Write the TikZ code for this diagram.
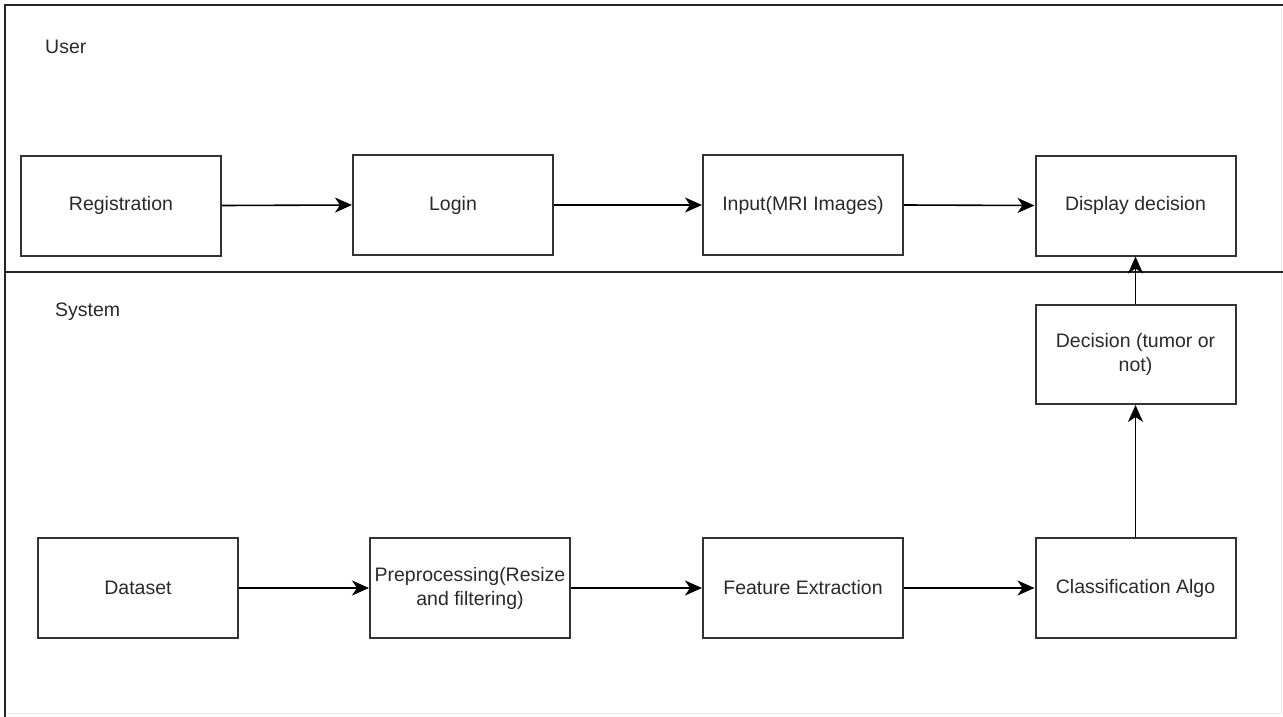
\documentclass[tikz,border=0pt]{standalone}
\usepackage{fontspec}
\setmainfont{Liberation Sans}
\usetikzlibrary{arrows.meta}
\definecolor{boxline}{HTML}{333333}
\definecolor{txt}{HTML}{2A2A2A}
\begin{document}
\begin{tikzpicture}[x=1pt,y=-1pt,
  stepbox/.style={draw=boxline, line width=2pt, fill=white, minimum width=200pt, minimum height=100pt,
    inner sep=0pt, align=center, text=txt, font=\fontsize{19.5}{24}\selectfont},
  lanelabel/.style={anchor=west, inner sep=0pt, text=txt, font=\fontsize{19.5}{24}\selectfont},
  frameline/.style={draw=black!85, line width=2pt},
  faintline/.style={draw=black!8, line width=1pt},
  flow/.style={draw=black, line width=1.6pt, -{Stealth[length=17pt,width=15pt,inset=5pt]}}]
\useasboundingbox (0,0) rectangle (1283,717);
\fill[white] (0,0) rectangle (1283,717);
% frame
\coordinate (tl) at (5,5);
\coordinate (tr) at (1283,5);
\coordinate (bl) at (5,717);
\coordinate (fr) at (1281,8);
\coordinate (frb) at (1281,713);
\coordinate (flb) at (6,713);
\coordinate (sl) at (5,272);
\coordinate (sr) at (1283,272);
\draw[faintline] (fr) -- (frb) -- (flb);
\draw[frameline] (bl) -- (tl) -- (tr);
\draw[frameline] (sl) -- (sr);
% lane labels
\node[lanelabel] (user) at (45,47) {User};
\node[lanelabel] (system) at (55,312) {System};
% boxes
\node[stepbox] (reg) at (121,205.5) {Registration};
\node[stepbox] (login) at (453,205) {Login};
\node[stepbox] (input) at (803,205) {Input(MRI Images)};
\node[stepbox] (disp) at (1135.5,205.5) {Display decision};
\node[stepbox, minimum height=99pt] (dec) at (1135.5,354.5) {Decision (tumor or\\not)};
\node[stepbox] (data) at (138,588) {Dataset};
\node[stepbox] (pre) at (470,588) {Preprocessing(Resize\\and filtering)};
\node[stepbox] (feat) at (803,588) {Feature Extraction};
\node[stepbox] (cls) at (1135.5,588) {Classification Algo};
% connectors
\draw[flow] (reg.east) -- (login.west);
\draw[flow] (login.east) -- (input.west);
\draw[flow] (input.east) -- (disp.west);
\draw[flow] (data.east) -- (pre.west);
\draw[flow] (pre.east) -- (feat.west);
\draw[flow] (feat.east) -- (cls.west);
\draw[flow] (cls.north) -- (dec.south);
\draw[flow] (dec.north) -- (disp.south);
\end{tikzpicture}
\end{document}
